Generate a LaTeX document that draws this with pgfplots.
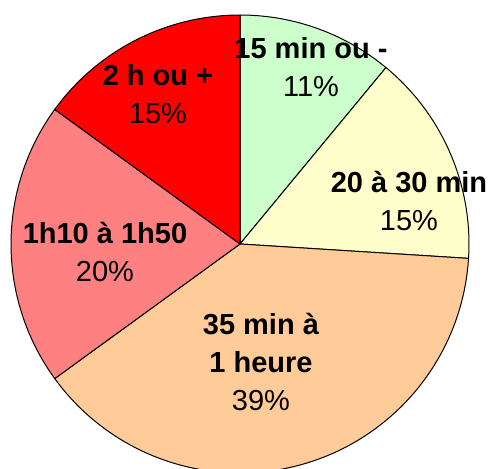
\documentclass[border=0pt]{standalone}
\usepackage{pgfplots}
\pgfplotsset{compat=1.18}
\usepackage{pgfplotstable}
\usepackage{fontspec}
\setmainfont{Liberation Sans}
\definecolor{cA}{HTML}{CCFFCC}
\definecolor{cB}{HTML}{FFFFCC}
\definecolor{cC}{HTML}{FFCC99}
\definecolor{cD}{HTML}{FF8080}
\definecolor{cE}{HTML}{FF0000}
\pgfplotstableread{
pct color
11 cA
15 cB
39 cC
20 cD
15 cE
}\piedata
\begin{document}
\begin{tikzpicture}
\begin{axis}[hide axis, scale only axis, width=491pt, height=469pt,
  xmin=0, xmax=491, ymin=0, ymax=469, y dir=reverse]
\def\start{0}
\pgfplotsforeachungrouped \i in {0,...,4}{%
  \pgfplotstablegetelem{\i}{pct}\of\piedata \let\p\pgfplotsretval
  \pgfplotstablegetelem{\i}{color}\of\piedata \let\c\pgfplotsretval
  \pgfmathsetmacro\endang{\start+3.6*\p}%
  \edef\temp{\noexpand\addplot[fill=\c, draw=black, line width=1pt, line join=round, domain=\start:\endang, samples=90]
    ({240+229*sin(x)},{244-229*cos(x)}) -- (axis cs:240,244) -- cycle;}%
  \temp
  \global\let\start\endang
}
\tikzset{lab/.style={font=\fontsize{29}{38}\selectfont, align=center, inner sep=0pt}}
\node[lab] at (axis cs:311,67) {\textbf{15 min ou -}\\11\%};
\node[lab] at (axis cs:158,94) {\textbf{2 h ou +}\\15\%};
\node[lab] at (axis cs:409,201) {\textbf{20 à 30 min}\\15\%};
\node[lab] at (axis cs:261,362) {\textbf{35 min à}\\\textbf{1 heure}\\39\%};
\node[lab] at (axis cs:105,252) {\textbf{1h10 à 1h50}\\20\%};
\end{axis}
\pgfresetboundingbox
\path (current axis.south west) rectangle (current axis.north east);
\end{tikzpicture}
\end{document}
